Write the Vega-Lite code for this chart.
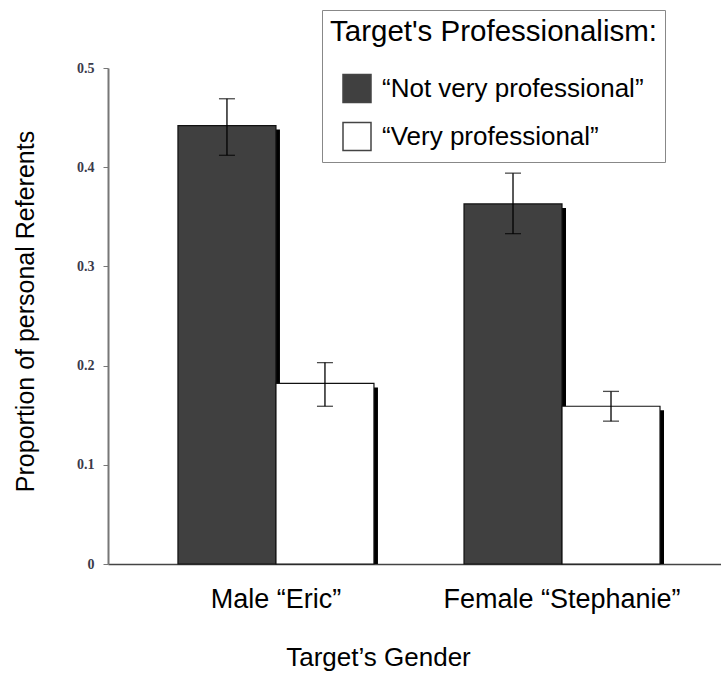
{
  "$schema": "https://vega.github.io/schema/vega-lite/v6.json",
  "autosize": "none",
  "width": 613,
  "height": 496,
  "padding": {"left": 108, "top": 68, "right": 0, "bottom": 113},
  "background": "white",
  "config": {"view": {"stroke": null}},
  "data": {
    "values": [
      {"gender": "Male “Eric”", "prof": "“Not very professional”", "value": 0.442, "lo": 0.412, "hi": 0.469},
      {"gender": "Male “Eric”", "prof": "“Very professional”", "value": 0.182, "lo": 0.159, "hi": 0.203},
      {"gender": "Female “Stephanie”", "prof": "“Not very professional”", "value": 0.363, "lo": 0.333, "hi": 0.394},
      {"gender": "Female “Stephanie”", "prof": "“Very professional”", "value": 0.159, "lo": 0.144, "hi": 0.174}
    ]
  },
  "encoding": {
    "x": {
      "field": "gender", "type": "nominal", "sort": ["Male “Eric”", "Female “Stephanie”"],
      "scale": {"paddingInner": 0.315, "paddingOuter": 0.229, "align": 0.534},
      "axis": {
        "title": "Target’s Gender", "titleFont": "Liberation Sans", "titleFontSize": 26, "titleFontWeight": "normal", "titleColor": "black",
        "titleX": 270, "titleY": 101, "titleBaseline": "alphabetic", "titleAlign": "center",
        "labelFont": "Liberation Sans", "labelFontSize": 27, "labelColor": "black", "labelAngle": 0, "labelPadding": 22, "labelLimit": 400,
        "ticks": false, "domainColor": "#444", "domainWidth": 1.5
      }
    }
  },
  "resolve": {"scale": {"xOffset": "independent"}},
  "layer": [
    {
      "mark": {"type": "bar", "color": "black", "yOffset": 4, "y2Offset": 0},
      "encoding": {
        "xOffset": {"field": "prof", "type": "nominal", "sort": ["“Not very professional”", "“Very professional”"], "scale": {"range": [4, 200]}},
        "y": {"field": "value", "type": "quantitative", "stack": null},
        "y2": {"datum": 0}
      }
    },
    {
      "mark": {"type": "bar", "stroke": "#111", "strokeWidth": 1.2},
      "encoding": {
        "xOffset": {"field": "prof", "type": "nominal", "sort": ["“Not very professional”", "“Very professional”"], "scale": {"range": [0, 196]}},
        "y": {
          "field": "value", "type": "quantitative",
          "scale": {"domain": [0, 0.5], "nice": false, "zero": true},
          "axis": {
            "values": [0, 0.1, 0.2, 0.3, 0.4, 0.5],
            "labelExpr": "datum.value == 0 ? '0' : format(datum.value, '.1f')",
            "grid": false, "tickSize": 5, "tickColor": "#777", "domainColor": "#777", "domainWidth": 2,
            "labelFont": "Liberation Serif", "labelFontSize": 14, "labelFontWeight": "bold", "labelColor": "#3a3a4a", "labelPadding": 9,
            "title": "Proportion of personal  Referents", "titleFont": "Liberation Sans", "titleFontSize": 25, "titleFontWeight": "normal", "titleColor": "black",
            "titleAngle": -90, "titleX": -75, "titleY": 243, "titleBaseline": "alphabetic", "titleAlign": "center"
          }
        },
        "fill": {
          "field": "prof", "type": "nominal",
          "scale": {"domain": ["“Not very professional”", "“Very professional”"], "range": ["#404040", "#ffffff"]},
          "legend": {
            "orient": "none", "legendX": 214, "legendY": -58,
            "title": "Target's Professionalism:", "titleFont": "Liberation Sans", "titleFontSize": 29.5, "titleFontWeight": "normal", "titleColor": "black", "titleLimit": 500, "titlePadding": 26,
            "labelFont": "Liberation Sans", "labelFontSize": 26, "labelColor": "black", "labelLimit": 500, "labelOffset": 10,
            "symbolType": "square", "symbolSize": 784, "symbolStrokeColor": "#444", "symbolStrokeWidth": 1.5, "symbolOffset": 12,
            "rowPadding": 14, "padding": 8, "strokeColor": "#888", "fillColor": "white"
          }
        }
      }
    },
    {
      "mark": {"type": "rule", "color": "black", "strokeWidth": 1.3},
      "encoding": {
        "xOffset": {"field": "prof", "type": "nominal", "sort": ["“Not very professional”", "“Very professional”"], "scale": {"range": [0, 196]}},
        "y": {"field": "lo", "type": "quantitative"},
        "y2": {"field": "hi"}
      }
    },
    {
      "mark": {"type": "tick", "color": "black", "size": 16, "thickness": 1.3},
      "encoding": {
        "xOffset": {"field": "prof", "type": "nominal", "sort": ["“Not very professional”", "“Very professional”"], "scale": {"range": [0, 196]}},
        "y": {"field": "lo", "type": "quantitative"}
      }
    },
    {
      "mark": {"type": "tick", "color": "black", "size": 16, "thickness": 1.3},
      "encoding": {
        "xOffset": {"field": "prof", "type": "nominal", "sort": ["“Not very professional”", "“Very professional”"], "scale": {"range": [0, 196]}},
        "y": {"field": "hi", "type": "quantitative"}
      }
    }
  ]
}
